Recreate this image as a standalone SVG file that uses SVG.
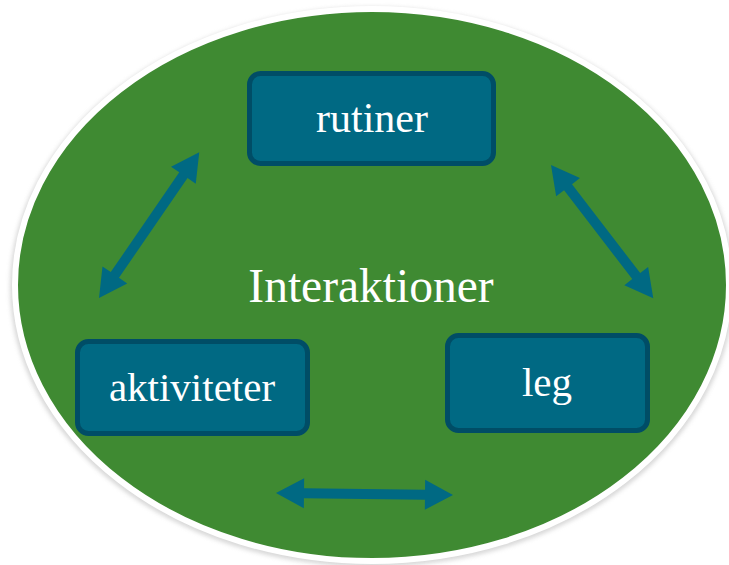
<svg xmlns="http://www.w3.org/2000/svg" width="729" height="565" viewBox="0 0 729 565">
  <defs>
    <filter id="sh" x="-10%" y="-10%" width="120%" height="120%">
      <feGaussianBlur stdDeviation="2"/>
    </filter>
  </defs>
  <style>
    .box{fill:#006983;stroke:#004d66;stroke-width:5}
    .lbl{font-family:"Liberation Serif","DejaVu Serif",serif;fill:#ffffff;text-anchor:middle}
    .arr{fill:#006983}
  </style>
  <rect width="729" height="565" fill="#ffffff"/>
  <g id="background">
    <ellipse cx="372" cy="287" rx="362" ry="280" fill="#c8c8c8" filter="url(#sh)" opacity="0.7"/>
    <ellipse cx="372" cy="285" rx="357" ry="276" fill="#3f8a32" stroke="#ffffff" stroke-width="6"/>
    <text class="lbl" x="371" y="302" font-size="47.5">Interaktioner</text>
  </g>
  <g id="connectors">
    <polygon class="arr" transform="translate(99,298) rotate(-55.5)" points="0,0 28,-15 28,-5 149,-5 149,-15 177,0 149,15 149,5 28,5 28,15"/>
    <polygon class="arr" transform="translate(551,165) rotate(52.5)" points="0,0 28,-15 28,-5 140,-5 140,-15 168,0 140,15 140,5 28,5 28,15"/>
    <polygon class="arr" transform="translate(276,493) rotate(0.65)" points="0,0 28,-15 28,-5 149,-5 149,-15 177,0 149,15 149,5 28,5 28,15"/>
  </g>
  <g id="rutiner">
    <rect class="box" x="249.5" y="73.5" width="244" height="90" rx="11"/>
    <text class="lbl" x="372" y="132" font-size="42">rutiner</text>
  </g>
  <g id="aktiviteter">
    <rect class="box" x="77.5" y="341.5" width="230" height="92" rx="11"/>
    <text class="lbl" x="192" y="401" font-size="41">aktiviteter</text>
  </g>
  <g id="leg">
    <rect class="box" x="447.5" y="335.5" width="200" height="95" rx="11"/>
    <text class="lbl" x="547" y="396" font-size="41">leg</text>
  </g>
</svg>
